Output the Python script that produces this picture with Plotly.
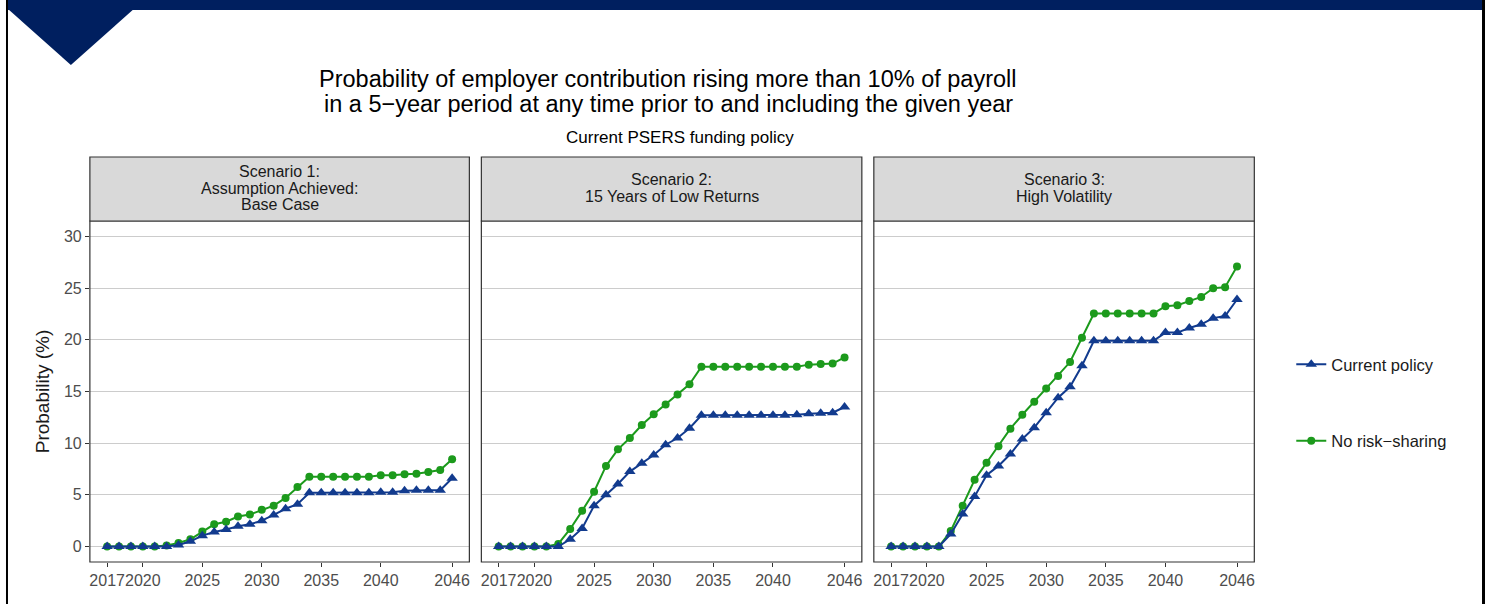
import plotly.graph_objects as go

W, H = 1491, 604

years = list(range(2017, 2047))
x_tickvals = [2017, 2020, 2025, 2030, 2035, 2040, 2046]
y_tickvals = [0, 5, 10, 15, 20, 25, 30]

panel_titles = [
    ["Scenario 1:", "Assumption Achieved:", "Base Case"],
    ["Scenario 2:", "15 Years of Low Returns"],
    ["Scenario 3:", "High Volatility"],
]
title_lines = [
    "Probability of employer contribution rising more than 10% of payroll",
    "in a 5\u2212year period at any time prior to and including the given year",
]
subtitle = "Current PSERS funding policy"
series_names = ["Current policy", "No risk\u2212sharing"]

s1_current = [0, 0, 0, 0, 0, 0, 0.15, 0.5, 1.05, 1.4, 1.65, 1.95, 2.15, 2.5, 3.05, 3.65, 4.1,
              5.2, 5.2, 5.2, 5.2, 5.2, 5.2, 5.25, 5.25, 5.4, 5.45, 5.45, 5.45, 6.6]
s1_norisk = [0, 0, 0, 0, 0, 0.1, 0.35, 0.7, 1.45, 2.15, 2.4, 2.9, 3.1, 3.55, 3.95, 4.7, 5.75,
             6.75, 6.75, 6.75, 6.75, 6.75, 6.75, 6.9, 6.9, 7.0, 7.05, 7.2, 7.4, 8.45]

s2_current = [0, 0, 0, 0, 0, 0, 0.7, 1.75, 3.95, 5.0, 6.05, 7.25, 8.05, 8.85, 9.85, 10.5, 11.45,
              12.7, 12.7, 12.7, 12.7, 12.7, 12.7, 12.7, 12.7, 12.75, 12.85, 12.9, 12.95, 13.5]
s2_norisk = [0, 0, 0, 0, 0, 0.25, 1.7, 3.45, 5.3, 7.8, 9.4, 10.5, 11.75, 12.8, 13.75, 14.7, 15.7,
             17.4, 17.4, 17.4, 17.4, 17.4, 17.4, 17.4, 17.4, 17.4, 17.6, 17.65, 17.7, 18.3]

s3_current = [0, 0, 0, 0, 0, 1.2, 3.15, 4.85, 6.9, 7.8, 8.95, 10.4, 11.5, 12.95, 14.4, 15.45, 17.5,
              19.9, 19.9, 19.9, 19.9, 19.9, 19.9, 20.7, 20.7, 21.15, 21.5, 22.1, 22.3, 23.9]
s3_norisk = [0, 0, 0, 0, 0, 1.5, 3.95, 6.45, 8.1, 9.7, 11.4, 12.75, 14.0, 15.3, 16.5, 17.85, 20.2,
             22.55, 22.55, 22.55, 22.55, 22.55, 22.55, 23.25, 23.35, 23.75, 24.15, 25.0, 25.1, 27.1]

current_all = [s1_current, s2_current, s3_current]
norisk_all = [s1_norisk, s2_norisk, s3_norisk]

BLUE = "#123B8E"
GREEN = "#1C9A1C"
NAVY = "#001F5F"
FONT = "Liberation Sans, Arial, sans-serif"

# panel geometry in pixels
panels_px = [(89, 469), (481, 862), (874, 1255)]
plot_top, plot_bot = 221, 562
strip_top = 157

def px(x):
    return x / W

def py(y):
    return 1 - y / H

fig = go.Figure()

for i in range(3):
    ax = "" if i == 0 else str(i + 1)
    fig.add_trace(go.Scatter(
        x=years, y=norisk_all[i], mode="lines+markers", name=series_names[1],
        line=dict(color=GREEN, width=2), marker=dict(symbol="circle", size=8, color=GREEN),
        xaxis="x" + ax, yaxis="y" + ax, showlegend=(i == 0), legendgroup="b", legendrank=2,
    ))
    fig.add_trace(go.Scatter(
        x=years, y=current_all[i], mode="lines+markers", name=series_names[0],
        line=dict(color=BLUE, width=2), marker=dict(symbol="triangle-up", size=10, color=BLUE),
        xaxis="x" + ax, yaxis="y" + ax, showlegend=(i == 0), legendgroup="a", legendrank=1,
    ))

layout = dict(
    width=W, height=H, autosize=False,
    margin=dict(l=0, r=0, t=0, b=0),
    paper_bgcolor="white", plot_bgcolor="white",
    font=dict(family=FONT, color="#1A1A1A"),
    showlegend=True,
    legend=dict(x=px(1292), y=py(347), xanchor="left", yanchor="top",
                tracegroupgap=52, font=dict(size=16.5, color="#1A1A1A"),
                bgcolor="rgba(0,0,0,0)", itemwidth=30),
)

shapes = []
annotations = []
for i, (l, r) in enumerate(panels_px):
    ax = "" if i == 0 else str(i + 1)
    xkey = "xaxis" + ax
    ykey = "yaxis" + ax
    layout[xkey] = dict(
        domain=[px(l), px(r)], range=[2015.55, 2047.45], anchor="y" + ax,
        tickvals=x_tickvals, ticktext=[str(v) for v in x_tickvals], tickangle=0,
        ticks="outside", ticklen=4, tickwidth=1, tickcolor="#333333",
        showgrid=False, zeroline=False, showline=False,
        tickfont=dict(size=16, color="#4D4D4D"),
    )
    layout[ykey] = dict(
        domain=[py(plot_bot), py(plot_top)], range=[-1.5, 31.5], anchor="x" + ax,
        tickvals=y_tickvals,
        showgrid=True, gridcolor="#CCCCCC", gridwidth=1.2,
        zeroline=False, showline=False,
        ticks="outside" if i == 0 else "", ticklen=4, tickwidth=1, tickcolor="#333333",
        showticklabels=(i == 0), tickfont=dict(size=16, color="#4D4D4D"),
    )
    if i == 0:
        layout[ykey]["title"] = dict(text="Probability (%)", font=dict(size=19, color="#1A1A1A"), standoff=9)
    # panel border
    shapes.append(dict(type="rect", xref="paper", yref="paper",
                       x0=px(l), x1=px(r), y0=py(plot_bot), y1=py(plot_top),
                       line=dict(color="#333333", width=1.2), fillcolor="rgba(0,0,0,0)", layer="above"))
    # strip
    shapes.append(dict(type="rect", xref="paper", yref="paper",
                       x0=px(l), x1=px(r), y0=py(plot_top), y1=py(strip_top),
                       line=dict(color="#333333", width=1.2), fillcolor="#D9D9D9", layer="above"))
    lines = panel_titles[i]
    n = len(lines)
    mid = (plot_top + strip_top) / 2 - 1
    for k, t in enumerate(lines):
        yc = mid + (k - (n - 1) / 2) * 16.5
        annotations.append(dict(text=t, xref="paper", yref="paper",
                                x=px((l + r) / 2), y=py(yc),
                                xanchor="center", yanchor="middle", showarrow=False,
                                font=dict(size=16, color="#1A1A1A"), borderpad=0))

# decorative frame
shapes.append(dict(type="rect", xref="paper", yref="paper", x0=px(7), x1=px(1483), y0=py(10), y1=1,
                   fillcolor=NAVY, line=dict(width=0), layer="above"))
shapes.append(dict(type="path", xref="paper", yref="paper",
                   path=f"M {px(7)} {py(9)} L {px(133)} {py(9)} L {px(70)} {py(65)} Z",
                   fillcolor=NAVY, line=dict(width=0), layer="above"))
shapes.append(dict(type="rect", xref="paper", yref="paper", x0=px(5), x1=px(7), y0=0, y1=1,
                   fillcolor="black", line=dict(width=0), layer="above"))
shapes.append(dict(type="rect", xref="paper", yref="paper", x0=px(1483), x1=px(1486), y0=0, y1=1,
                   fillcolor="black", line=dict(width=0), layer="above"))

for k, t in enumerate(title_lines):
    annotations.append(dict(
        text=t, xref="paper", yref="paper", x=px(668), y=py(79 + 25 * k),
        xanchor="center", yanchor="middle", showarrow=False,
        font=dict(size=23.5, color="#000000")))
annotations.append(dict(
    text=subtitle, xref="paper", yref="paper", x=px(680), y=py(137),
    xanchor="center", yanchor="middle", showarrow=False, font=dict(size=17, color="#000000")))

layout["shapes"] = shapes
layout["annotations"] = annotations
fig.update_layout(**layout)

fig.write_html("out.html",
               config=dict(displayModeBar=False, responsive=False),
               post_script="document.body.style.margin='0';")
